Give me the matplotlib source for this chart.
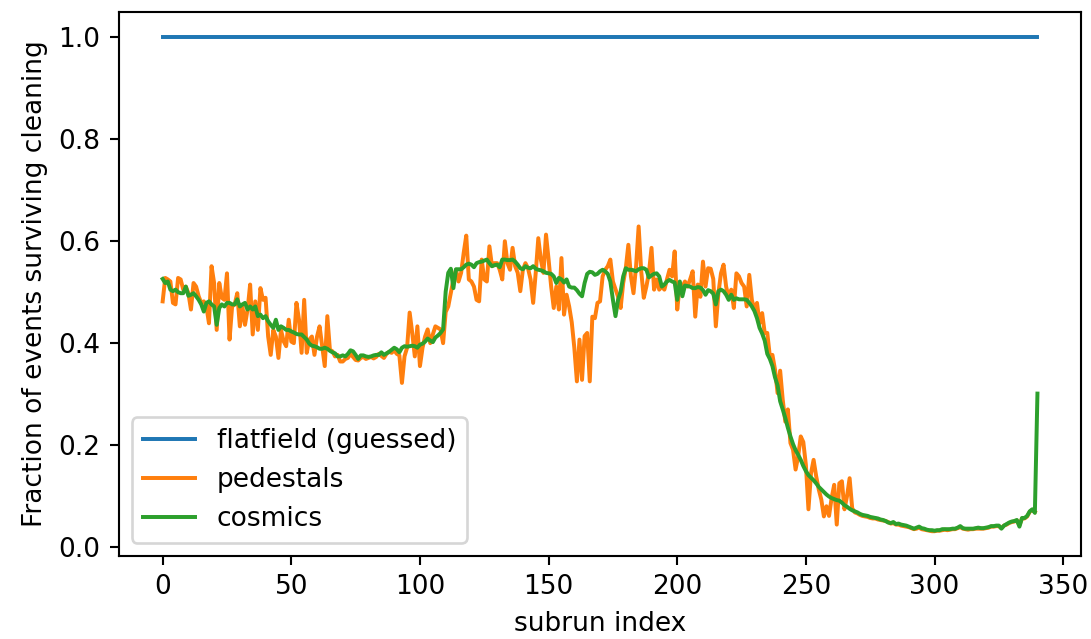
import numpy as np
import matplotlib
matplotlib.use('Agg')
import matplotlib.pyplot as plt

# Fraction of events surviving cleaning, per subrun
pedestals = [
    0.481, 0.527, 0.524, 0.520, 0.478, 0.475, 0.527, 0.524, 0.504, 0.510,
    0.497, 0.465, 0.517, 0.510, 0.491, 0.478, 0.481, 0.471, 0.438, 0.550,
    0.517, 0.425, 0.517, 0.488, 0.484, 0.536, 0.406, 0.471, 0.475, 0.497,
    0.432, 0.471, 0.435, 0.465, 0.514, 0.416, 0.481, 0.425, 0.507, 0.484,
    0.488, 0.412, 0.376, 0.425, 0.412, 0.370, 0.425, 0.403, 0.393, 0.445,
    0.402, 0.399, 0.478, 0.445, 0.380, 0.484, 0.380, 0.406, 0.412, 0.376,
    0.412, 0.432, 0.393, 0.354, 0.452, 0.386, 0.383, 0.373, 0.376, 0.363,
    0.363, 0.368, 0.370, 0.378, 0.372, 0.366, 0.365, 0.370, 0.372, 0.368,
    0.370, 0.372, 0.369, 0.372, 0.378, 0.374, 0.370, 0.378, 0.382, 0.380,
    0.385, 0.378, 0.375, 0.321, 0.373, 0.390, 0.459, 0.419, 0.373, 0.432,
    0.354, 0.390, 0.412, 0.426, 0.399, 0.416, 0.432, 0.429, 0.426, 0.399,
    0.460, 0.471, 0.497, 0.524, 0.543, 0.520, 0.537, 0.576, 0.610, 0.524,
    0.520, 0.510, 0.484, 0.481, 0.563, 0.524, 0.520, 0.589, 0.550, 0.556,
    0.556, 0.543, 0.524, 0.599, 0.556, 0.543, 0.586, 0.550, 0.537, 0.501,
    0.543, 0.556, 0.546, 0.524, 0.478, 0.537, 0.605, 0.563, 0.537, 0.612,
    0.563, 0.510, 0.468, 0.510, 0.465, 0.566, 0.455, 0.494, 0.471, 0.440,
    0.390, 0.324, 0.406, 0.327, 0.413, 0.419, 0.324, 0.451, 0.448, 0.478,
    0.481, 0.530, 0.543, 0.550, 0.563, 0.520, 0.505, 0.490, 0.468, 0.517,
    0.546, 0.592, 0.530, 0.497, 0.550, 0.628, 0.540, 0.488, 0.510, 0.537,
    0.586, 0.504, 0.524, 0.504, 0.510, 0.504, 0.524, 0.543, 0.530, 0.579,
    0.465, 0.514, 0.510, 0.520, 0.510, 0.524, 0.540, 0.451, 0.514, 0.490,
    0.559, 0.510, 0.546, 0.545, 0.525, 0.432, 0.497, 0.536, 0.553, 0.510,
    0.488, 0.504, 0.468, 0.536, 0.530, 0.517, 0.510, 0.471, 0.533, 0.484,
    0.465, 0.478, 0.438, 0.458, 0.419, 0.419, 0.373, 0.376, 0.347, 0.301,
    0.345, 0.288, 0.245, 0.269, 0.203, 0.190, 0.151, 0.177, 0.216, 0.205,
    0.160, 0.073, 0.144, 0.170, 0.138, 0.112, 0.092, 0.059, 0.079, 0.060,
    0.095, 0.121, 0.043, 0.124, 0.128, 0.073, 0.099, 0.134, 0.075, 0.067,
    0.065, 0.062, 0.060, 0.059, 0.058, 0.056, 0.055, 0.055, 0.053, 0.052,
    0.051, 0.050, 0.048, 0.045, 0.046, 0.043, 0.043, 0.041, 0.040, 0.039,
    0.038, 0.036, 0.034, 0.035, 0.037, 0.034, 0.033, 0.032, 0.031, 0.030,
    0.030, 0.031, 0.031, 0.032, 0.033, 0.032, 0.033, 0.034, 0.034,
    0.036, 0.038, 0.035, 0.034, 0.033, 0.034, 0.034, 0.035, 0.035, 0.035,
    0.035, 0.036, 0.037, 0.039, 0.039, 0.040, 0.040, 0.036, 0.041, 0.043,
    0.046, 0.048, 0.049, 0.051, 0.042, 0.055, 0.055, 0.059, 0.068, 0.072,
    0.068,
]

cosmics = [
    0.525, 0.517, 0.520, 0.504, 0.501, 0.504, 0.499, 0.497, 0.497, 0.510,
    0.492, 0.494, 0.497, 0.491, 0.484, 0.475, 0.461, 0.478, 0.481, 0.475,
    0.471, 0.435, 0.468, 0.475, 0.471, 0.478, 0.478, 0.475, 0.475, 0.485,
    0.471, 0.475, 0.478, 0.465, 0.471, 0.465, 0.471, 0.452, 0.455, 0.448,
    0.452, 0.442, 0.435, 0.429, 0.445, 0.425, 0.432, 0.429, 0.425, 0.425,
    0.422, 0.420, 0.417, 0.416, 0.416, 0.411, 0.406, 0.398, 0.394, 0.393,
    0.391, 0.388, 0.388, 0.390, 0.388, 0.384, 0.381, 0.379, 0.373, 0.373,
    0.375, 0.373, 0.378, 0.385, 0.383, 0.376, 0.368, 0.375, 0.375, 0.373,
    0.372, 0.373, 0.375, 0.376, 0.376, 0.381, 0.376, 0.379, 0.382, 0.386,
    0.390, 0.387, 0.381, 0.390, 0.393, 0.392, 0.393, 0.394, 0.393, 0.390,
    0.396, 0.398, 0.402, 0.408, 0.404, 0.401, 0.410, 0.414, 0.419, 0.426,
    0.500, 0.537, 0.545, 0.507, 0.544, 0.544, 0.544, 0.548, 0.553, 0.555,
    0.553, 0.548, 0.556, 0.558, 0.559, 0.561, 0.563, 0.556, 0.550, 0.552,
    0.553, 0.548, 0.563, 0.563, 0.562, 0.562, 0.563, 0.559, 0.553, 0.546,
    0.544, 0.550, 0.547, 0.546, 0.550, 0.545, 0.543, 0.542, 0.540, 0.537,
    0.536, 0.535, 0.530, 0.517, 0.527, 0.524, 0.518, 0.524, 0.510, 0.508,
    0.508, 0.503, 0.496, 0.491, 0.517, 0.535, 0.539, 0.538, 0.533, 0.535,
    0.540, 0.543, 0.540, 0.535, 0.520, 0.484, 0.452, 0.484, 0.500, 0.530,
    0.546, 0.543, 0.543, 0.542, 0.540, 0.544, 0.546, 0.546, 0.543, 0.528,
    0.532, 0.535, 0.536, 0.530, 0.510, 0.514, 0.520, 0.523, 0.520, 0.518,
    0.484, 0.520, 0.491, 0.512, 0.511, 0.510, 0.507, 0.507, 0.509, 0.508,
    0.503, 0.494, 0.503, 0.501, 0.496, 0.475, 0.501, 0.504, 0.501, 0.494,
    0.484, 0.494, 0.484, 0.487, 0.485, 0.485, 0.485, 0.484, 0.478, 0.471,
    0.462, 0.448, 0.429, 0.418, 0.404, 0.378, 0.368, 0.354, 0.332, 0.316,
    0.285, 0.269, 0.252, 0.233, 0.216, 0.201, 0.189, 0.180, 0.170, 0.158,
    0.148, 0.140, 0.135, 0.130, 0.124, 0.117, 0.112, 0.107, 0.102, 0.098,
    0.095, 0.093, 0.091, 0.090, 0.086, 0.081, 0.078, 0.074, 0.071, 0.069,
    0.067, 0.064, 0.062, 0.061, 0.060, 0.058, 0.057, 0.056, 0.055, 0.053,
    0.052, 0.050, 0.047, 0.046, 0.048, 0.044, 0.045, 0.043, 0.042, 0.041,
    0.039, 0.037, 0.035, 0.037, 0.039, 0.036, 0.035, 0.033, 0.032, 0.032,
    0.031, 0.032, 0.032, 0.034, 0.034, 0.034, 0.034, 0.035, 0.035,
    0.037, 0.040, 0.036, 0.035, 0.035, 0.035, 0.035, 0.036, 0.037, 0.036,
    0.036, 0.037, 0.038, 0.040, 0.040, 0.041, 0.041, 0.035, 0.041, 0.044,
    0.047, 0.049, 0.050, 0.052, 0.039, 0.056, 0.056, 0.060, 0.069, 0.073,
    0.066, 0.300,
]

subrun = np.arange(len(cosmics))
flatfield = [1.0] * len(subrun)  # guessed, constant

dpi = 190
fig = plt.figure(figsize=(1091 / dpi, 639 / dpi), dpi=dpi)
ax = fig.add_axes([0.109, 0.130, 0.882, 0.851])

ax.plot(subrun, flatfield, label='flatfield (guessed)')
ax.plot(subrun[:len(pedestals)], pedestals, label='pedestals')
ax.plot(subrun, cosmics, label='cosmics')

ax.set_xlabel('subrun index')
ax.set_ylabel('Fraction of events surviving cleaning')
ax.legend(loc='lower left')

fig.savefig('out.png', dpi=dpi)
